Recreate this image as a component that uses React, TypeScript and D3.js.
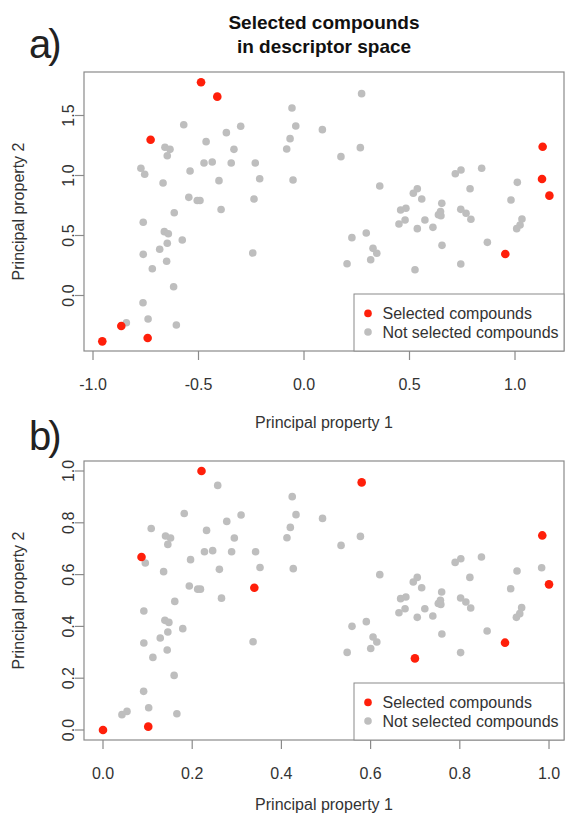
import React from 'react';
import * as d3 from 'd3';

// Principal property 1 / 2 of each compound (panel a, raw descriptor space)
const pc1 = [
  -0.488, -0.411, -0.727, -0.956, -0.866, -0.741, 1.131, 1.128, 1.163, 0.954,
  -0.570, -0.300, -0.368, -0.464, -0.659, -0.635, -0.332, -0.648, -0.474, -0.435,
  -0.345, -0.773, -0.755, -0.540, -0.403, -0.668, -0.546, -0.506, -0.493, -0.615,
  -0.393, -0.237, -0.762, -0.662, -0.643, -0.577, -0.648, -0.684, -0.762, -0.243,
  -0.651, -0.719, -0.618, -0.763, -0.739, -0.842, -0.605, 0.273, -0.057, -0.039,
  0.087, -0.066, -0.082, 0.267, 0.175, -0.231, -0.210, -0.052, 0.359, 0.518,
  0.537, 0.717, 0.744, 0.842, 0.787, 1.011, 0.458, 0.483, 0.558, 0.653,
  0.637, 0.649, 0.647, 0.743, 0.768, 0.791, 0.981, 0.450, 0.479, 0.573,
  0.537, 0.611, 1.033, 1.024, 1.008, 0.227, 0.295, 0.869, 0.654, 0.327,
  0.345, 0.316, 0.204, 0.743, 0.526,
];
const pc2 = [
  1.777, 1.657, 1.298, -0.382, -0.254, -0.354, 1.240, 0.971, 0.832, 0.346,
  1.423, 1.410, 1.357, 1.282, 1.235, 1.218, 1.218, 1.165, 1.104, 1.113,
  1.104, 1.060, 1.010, 1.038, 0.957, 0.938, 0.818, 0.792, 0.792, 0.690,
  0.717, 0.804, 0.610, 0.532, 0.515, 0.463, 0.435, 0.385, 0.343, 0.354,
  0.285, 0.223, 0.073, -0.060, -0.196, -0.227, -0.246, 1.682, 1.563, 1.413,
  1.382, 1.307, 1.221, 1.232, 1.157, 1.104, 0.973, 0.963, 0.913, 0.852,
  0.890, 1.015, 1.046, 1.060, 0.890, 0.943, 0.713, 0.727, 0.804, 0.768,
  0.673, 0.665, 0.700, 0.718, 0.685, 0.635, 0.796, 0.596, 0.629, 0.629,
  0.557, 0.568, 0.638, 0.588, 0.557, 0.482, 0.521, 0.443, 0.418, 0.393,
  0.352, 0.298, 0.265, 0.263, 0.215,
];

// indices of the selected compounds in each panel
const selectedA = [0, 1, 2, 3, 4, 5, 6, 7, 8, 9];
const selectedB = [0, 3, 5, 6, 8, 9, 21, 31, 47, 94];

const xTicksA = [-1.0, -0.5, 0.0, 0.5, 1.0];
const yTicksA = [0.0, 0.5, 1.0, 1.5];
const xTicksB = [0.0, 0.2, 0.4, 0.6, 0.8, 1.0];
const yTicksB = [0.0, 0.2, 0.4, 0.6, 0.8, 1.0];

const titleLines = ['Selected compounds', 'in descriptor space'];
const panelLabels = ['a)', 'b)'];
const legendLabels = ['Selected compounds', 'Not selected compounds'];
const xTitle = 'Principal property 1';
const yTitle = 'Principal property 2';

const W = 565;
const H = 816;
const RED = '#ff1f0a';
const GRAY = '#bebebe';
const AXIS = '#8a8a8a';
const TXT = '#333333';
const FONT = "'Liberation Sans', Arial, Helvetica, sans-serif";

type Box = { left: number; right: number; top: number; bottom: number };

const fmt = (v: number) => v.toFixed(1);

function Panel({
  xs, ys, selected, box, xLim, yLim, xTicks, yTicks, titleY,
}: {
  xs: number[]; ys: number[]; selected: number[]; box: Box;
  xLim: [number, number]; yLim: [number, number];
  xTicks: number[]; yTicks: number[]; titleY: number;
}) {
  const x = d3.scaleLinear().domain(xLim).range([box.left, box.right]);
  const y = d3.scaleLinear().domain(yLim).range([box.bottom, box.top]);
  const sel = new Set(selected);
  const idx = d3.range(xs.length);
  const tick = 9;
  const legW = box.right - 354;
  const legH = 57;
  const legX = box.right - legW;
  const legY = box.bottom - legH;
  return (
    <g>
      {idx.filter(i => !sel.has(i)).map(i => (
        <circle key={'g' + i} cx={x(xs[i])} cy={y(ys[i])} r={3.8} fill={GRAY} />
      ))}
      {idx.filter(i => sel.has(i)).map(i => (
        <circle key={'r' + i} cx={x(xs[i])} cy={y(ys[i])} r={4.3} fill={RED} />
      ))}
      <rect x={box.left} y={box.top} width={box.right - box.left} height={box.bottom - box.top}
        fill="none" stroke={AXIS} strokeWidth={1.2} />
      {xTicks.map(t => (
        <g key={'xt' + t}>
          <line x1={x(t)} x2={x(t)} y1={box.bottom} y2={box.bottom + tick} stroke={AXIS} strokeWidth={1.2} />
          <text x={x(t)} y={box.bottom + 39.4} textAnchor="middle" fontSize={16} fill={TXT} fontFamily={FONT}>{fmt(t)}</text>
        </g>
      ))}
      {yTicks.map(t => (
        <g key={'yt' + t}>
          <line x1={box.left - tick} x2={box.left} y1={y(t)} y2={y(t)} stroke={AXIS} strokeWidth={1.2} />
          <text transform={`translate(${box.left - 10},${y(t)}) rotate(-90)`} textAnchor="middle"
            fontSize={16} fill={TXT} fontFamily={FONT}>{fmt(t)}</text>
        </g>
      ))}
      <text x={(box.left + box.right) / 2} y={titleY} textAnchor="middle" fontSize={16}
        fill={TXT} fontFamily={FONT}>{xTitle}</text>
      <text transform={`translate(24,${(box.top + box.bottom) / 2}) rotate(-90)`} textAnchor="middle"
        fontSize={16} fill={TXT} fontFamily={FONT}>{yTitle}</text>
      <rect x={legX} y={legY} width={legW} height={legH} fill="white" stroke={AXIS} strokeWidth={1} />
      {legendLabels.map((l, k) => (
        <g key={l}>
          <circle cx={legX + 14} cy={legY + 19.4 + k * 18.6} r={3.8} fill={k === 0 ? RED : GRAY} />
          <text x={legX + 28.5} y={legY + 25 + k * 18.6} fontSize={16} fill={TXT} fontFamily={FONT}>{l}</text>
        </g>
      ))}
    </g>
  );
}

export default function App() {
  const [x0, x1] = d3.extent(pc1) as [number, number];
  const [y0, y1] = d3.extent(pc2) as [number, number];
  // panel b: the same descriptors scaled to [0, 1]
  const nx = pc1.map(v => (v - x0) / (x1 - x0));
  const ny = pc2.map(v => (v - y0) / (y1 - y0));
  const boxA: Box = { left: 84, right: 564, top: 72, bottom: 351 };
  const boxB: Box = { left: 84, right: 564, top: 461, bottom: 740 };
  return (
    <svg width={W} height={H} style={{ position: 'absolute', left: 0, top: 0, background: 'white' }}>
      <rect width={W} height={H} fill="white" />
      {titleLines.map((t, k) => (
        <text key={t} x={324} y={29 + k * 24} textAnchor="middle" fontSize={19} fontWeight="bold"
          fill="#111" fontFamily={FONT}>{t}</text>
      ))}
      <text x={29} y={57.5} fontSize={40} fill="#222" fontFamily={FONT} letterSpacing={-3}>{panelLabels[0]}</text>
      <text x={29} y={450} fontSize={40} fill="#222" fontFamily={FONT} letterSpacing={-3}>{panelLabels[1]}</text>
      <Panel xs={pc1} ys={pc2} selected={selectedA} box={boxA}
        xLim={[-1.0427, 1.2322]} yLim={[-0.4625, 1.8625]}
        xTicks={xTicksA} yTicks={yTicksA} titleY={428} />
      <Panel xs={nx} ys={ny} selected={selectedB} box={boxB}
        xLim={[-0.0426, 1.0336]} yLim={[-0.0386, 1.0386]}
        xTicks={xTicksB} yTicks={yTicksB} titleY={810} />
    </svg>
  );
}
